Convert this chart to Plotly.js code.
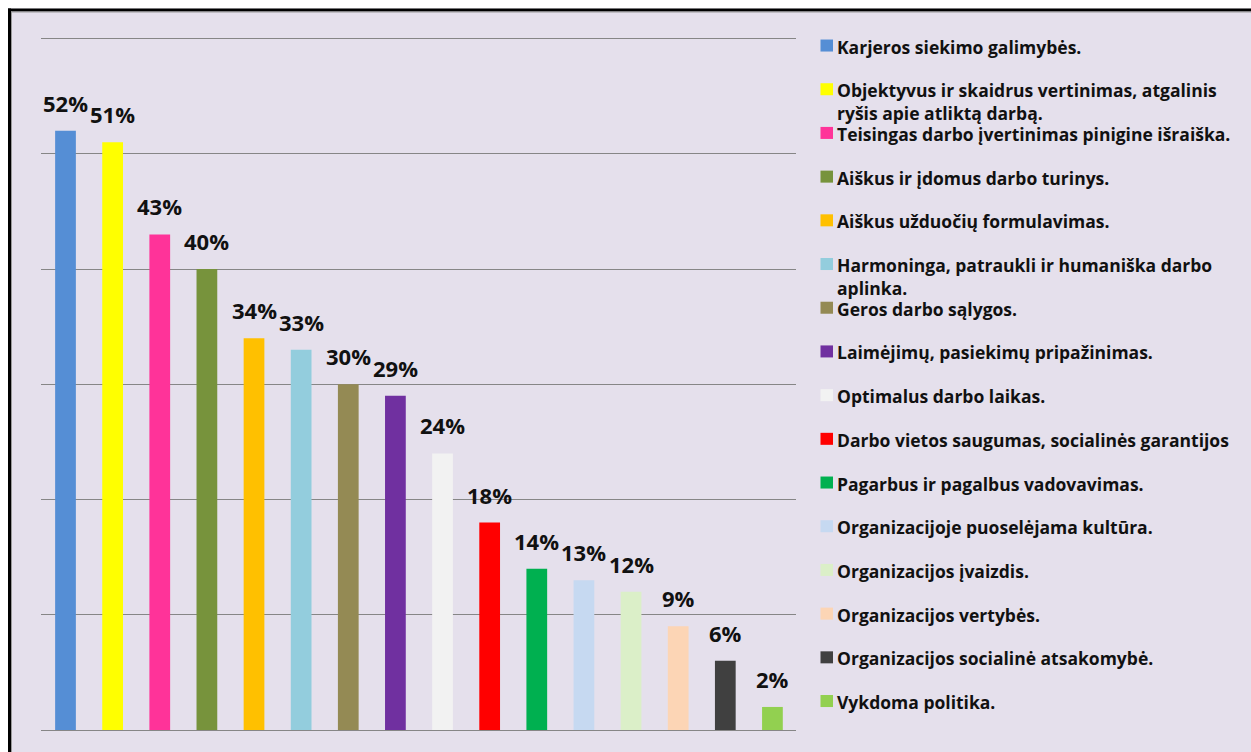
<!DOCTYPE html>
<html>
<head>
<meta charset="utf-8">
<script src="https://cdn.plot.ly/plotly-3.0.1.min.js"></script>
<style>
  html, body { margin: 0; padding: 0; background: #ffffff; }
  #chart { width: 1251px; height: 752px; }
</style>
</head>
<body>
<div id="chart"></div>
<script>
// ---- data ----
const categories = [
  "Karjeros siekimo galimybės.",
  "Objektyvus ir skaidrus vertinimas, atgalinis<br>ryšis apie atliktą darbą.",
  "Teisingas darbo įvertinimas pinigine išraiška.",
  "Aiškus ir įdomus darbo turinys.",
  "Aiškus užduočių formulavimas.",
  "Harmoninga, patraukli ir humaniška darbo<br>aplinka.",
  "Geros darbo sąlygos.",
  "Laimėjimų, pasiekimų pripažinimas.",
  "Optimalus darbo laikas.",
  "Darbo vietos saugumas, socialinės garantijos",
  "Pagarbus ir pagalbus vadovavimas.",
  "Organizacijoje puoselėjama kultūra.",
  "Organizacijos įvaizdis.",
  "Organizacijos vertybės.",
  "Organizacijos socialinė atsakomybė.",
  "Vykdoma politika."
];
const values = [52, 51, 43, 40, 34, 33, 30, 29, 24, 18, 14, 13, 12, 9, 6, 2];
const colors = [
  "#558ED5", "#FFFF00", "#FF3399", "#77933C", "#FFC000", "#93CDDD",
  "#948A54", "#7030A0", "#F2F2F2", "#FF0000", "#00B050", "#C6D9F1",
  "#DBEFC8", "#FCD5B5", "#404040", "#92D050"
];
const valueLabels = values.map(v => v + "%");

// ---- layout geometry ----
const W = 1251, H = 752;
const pxPerUnit = 691 / 60;
const M = { l: 41, r: 455, t: 39 - pxPerUnit, b: 22 };
const plotW = W - M.l - M.r, plotH = H - M.t - M.b;
const px2x = px => (px - M.l) / plotW;
const py2y = py => (H - M.b - py) / plotH;

const FONT = "'Open Sans', Lato, sans-serif";

const trace = {
  type: "bar",
  x: categories,
  y: values,
  marker: { color: colors, line: { width: 0 } },
  hoverinfo: "x+y",
  showlegend: false
};

const annotations = [];
// value labels above bars
categories.forEach((c, i) => {
  annotations.push({
    x: c, y: values[i], xref: "x", yref: "y",
    text: "<b>" + valueLabels[i] + "</b>",
    showarrow: false, xanchor: "center", yanchor: "bottom", yshift: 11,
    font: { family: FONT, size: 22, color: "#111111" }
  });
});

const shapes = [];
// white outside strips and frame lines (top / left)
shapes.push({ type: "rect", xref: "paper", yref: "paper", layer: "above",
  x0: px2x(-5), x1: px2x(8), y0: py2y(760), y1: py2y(-5),
  fillcolor: "#ffffff", line: { width: 0 } });
shapes.push({ type: "rect", xref: "paper", yref: "paper", layer: "above",
  x0: px2x(-5), x1: px2x(1260), y0: py2y(9), y1: py2y(-5),
  fillcolor: "#ffffff", line: { width: 0 } });
shapes.push({ type: "rect", xref: "paper", yref: "paper", layer: "above",
  x0: px2x(8), x1: px2x(1260), y0: py2y(12), y1: py2y(9),
  fillcolor: "#000000", line: { width: 0 } });
shapes.push({ type: "rect", xref: "paper", yref: "paper", layer: "above",
  x0: px2x(8), x1: px2x(11), y0: py2y(760), y1: py2y(9),
  fillcolor: "#000000", line: { width: 0 } });
shapes.push({ type: "rect", xref: "paper", yref: "paper", layer: "above",
  x0: px2x(11), x1: px2x(1260), y0: py2y(13), y1: py2y(12),
  fillcolor: "#9a9a9a", line: { width: 0 } });
shapes.push({ type: "rect", xref: "paper", yref: "paper", layer: "above",
  x0: px2x(11), x1: px2x(12), y0: py2y(760), y1: py2y(12),
  fillcolor: "#9a9a9a", line: { width: 0 } });

// custom legend (uniform spacing like the original)
const legTop = 46, legStep = 43.67;
categories.forEach((c, i) => {
  const cy = legTop + i * legStep;
  shapes.push({
    type: "rect", xref: "paper", yref: "paper",
    x0: px2x(820.5), x1: px2x(833), y0: py2y(cy + 6), y1: py2y(cy - 6),
    fillcolor: colors[i], line: { width: 0 }
  });
  annotations.push({
    x: px2x(835), y: py2y(cy - 13), xref: "paper", yref: "paper",
    text: "<b>" + c + "</b>",
    showarrow: false, xanchor: "left", yanchor: "top", align: "left",
    font: { family: FONT, size: 17.5, color: "#111111" }
  });
});

const layout = {
  width: W, height: H,
  margin: M,
  paper_bgcolor: "#E5E0EC",
  plot_bgcolor: "#E5E0EC",
  bargap: 0.56,
  showlegend: false,
  xaxis: {
    type: "category",
    showticklabels: false, showgrid: false, zeroline: false,
    showline: false, ticks: ""
  },
  yaxis: {
    range: [0, 61], dtick: 10, tick0: 0,
    showticklabels: false, ticks: "",
    showgrid: true, gridcolor: "#868686", gridwidth: 1,
    zeroline: true, zerolinecolor: "#868686", zerolinewidth: 1,
    showline: false
  },
  annotations: annotations,
  shapes: shapes,
  font: { family: FONT }
};

Plotly.newPlot("chart", [trace], layout, { displayModeBar: false, staticPlot: true });
</script>
</body>
</html>
